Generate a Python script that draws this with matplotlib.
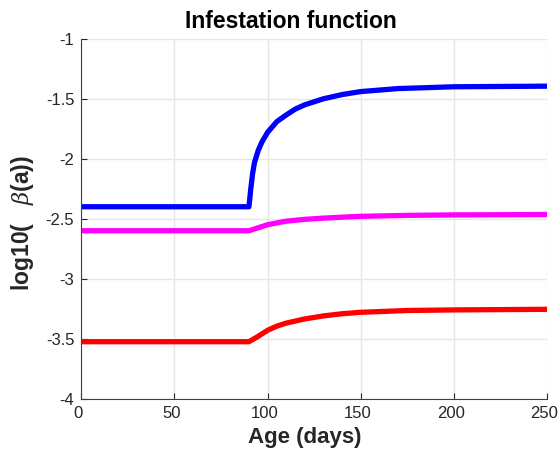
import numpy as np
import matplotlib.pyplot as plt
from matplotlib.transforms import ScaledTranslation

plt.rcParams['font.family'] = ['Liberation Sans', 'DejaVu Sans']
plt.rcParams['mathtext.fontset'] = 'dejavuserif'

# values
age_blue = [0, 90, 91, 92, 93, 95, 97, 100, 105, 110, 115, 120, 130, 140, 150, 170, 200, 250]
beta_blue = [-2.40, -2.40, -2.25, -2.12, -2.03, -1.93, -1.86, -1.78, -1.69, -1.635, -1.585,
             -1.55, -1.50, -1.465, -1.44, -1.415, -1.40, -1.395]

age_mag = [0, 90, 95, 100, 105, 110, 120, 130, 140, 150, 175, 200, 250]
beta_mag = [-2.60, -2.60, -2.575, -2.55, -2.535, -2.52, -2.505, -2.495, -2.487, -2.48,
            -2.472, -2.468, -2.465]

age_red = [0, 90, 95, 100, 105, 110, 120, 130, 140, 150, 175, 200, 250]
beta_red = [-3.525, -3.525, -3.48, -3.43, -3.395, -3.37, -3.335, -3.31, -3.292, -3.28,
            -3.265, -3.26, -3.255]

xticks = [0, 50, 100, 150, 200, 250]
yticks = [-4, -3.5, -3, -2.5, -2, -1.5, -1]
ytick_labels = ['-4', '-3.5', '-3', '-2.5', '-2', '-1.5', '-1']

fig = plt.figure(figsize=(5.6, 4.51), dpi=100)
ax = fig.add_axes([0.145, 0.116, 0.832, 0.798])

ax.plot(age_blue, beta_blue, color='#0000ff', lw=3.8, solid_joinstyle='round')
ax.plot(age_mag, beta_mag, color='#ff00ff', lw=3.8, solid_joinstyle='round')
ax.plot(age_red, beta_red, color='#ff0000', lw=3.8, solid_joinstyle='round')

ax.set_xlim(0, 250)
ax.set_ylim(-4, -1)
ax.set_xticks(xticks)
ax.set_yticks(yticks)
ax.set_yticklabels(ytick_labels)
ax.grid(True, color='#e6e6e6', lw=1)
ax.set_axisbelow(True)
for s in ['top', 'right']:
    ax.spines[s].set_visible(False)
for s in ['left', 'bottom']:
    ax.spines[s].set_color('#404040')
ax.tick_params(direction='in', length=4, colors='#262626', labelsize=12, pad=5)

# x tick labels sit a little left of their ticks in the reference
shift = ScaledTranslation(-3 / 100, 0, fig.dpi_scale_trans)
for lab in ax.get_xticklabels():
    lab.set_transform(lab.get_transform() + shift)

ax.set_title('Infestation function', fontsize=16.5, fontweight='bold', x=0.45, pad=8)
ax.set_xlabel('Age (days)', fontsize=16, fontweight='bold', color='#262626')
ax.xaxis.set_label_coords(0.48, -0.08, transform=ax.transAxes)
ax.xaxis.label.set_va('top')
ax.set_ylabel(r'log10(   $\beta$(a))', fontsize=16.5, fontweight='bold', color='#262626')
ax.yaxis.set_label_coords(-0.098, 0.488)

fig.savefig('out.png', dpi=100)
